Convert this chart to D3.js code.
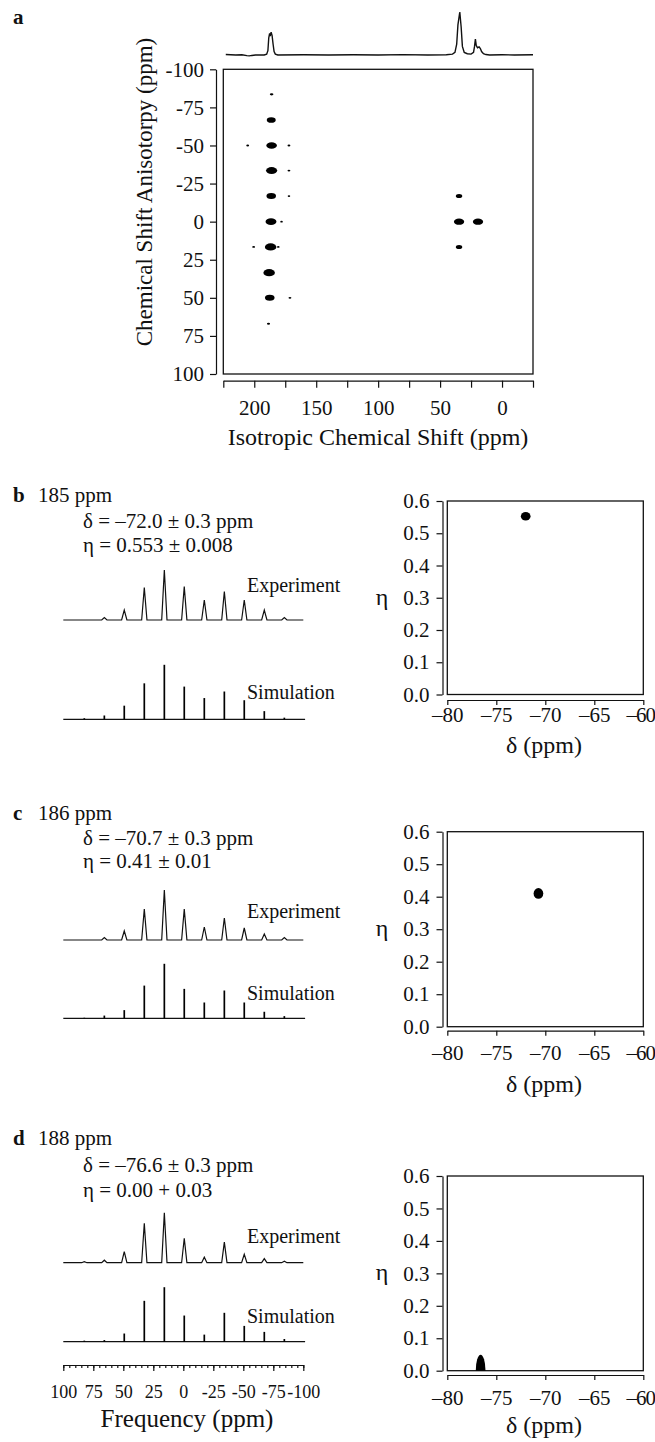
<!DOCTYPE html>
<html>
<head>
<meta charset="utf-8">
<script src="https://cdn.jsdelivr.net/npm/d3@7"></script>
<style>
  body { margin: 0; background: #fff; }
  svg text { font-family: "Liberation Serif", "Times New Roman", serif; fill: #111; }
  .axis path, .axis line { stroke: #111; stroke-width: 1.2; }
</style>
</head>
<body>
<div id="chart"></div>
<script>
// ---------- panel a : 2D isotropic / anisotropic spectrum ----------
const SPOT_ISO   = [186.0, 186.3, 186.0, 205.3, 172.0, 186.0, 172.0, 186.3, 172.0, 186.5, 178.0, 186.8, 200.5, 180.6, 188.0, 187.5, 171.2, 188.5, 34.7, 34.7, 34.7, 19.4];
const SPOT_ANISO = [-83.6, -66.7, -50.0, -50.0, -50.0, -33.5, -33.5, -16.8, -16.8, 0.0, 0.0, 16.6, 16.6, 16.6, 33.5, 50.0, 50.0, 67.0, -16.8, 0.0, 16.6, 0.0];
const SPOT_INT   = [8, 49, 68, 5, 5, 77, 5, 56, 4, 72, 4, 81, 5, 4, 81, 56, 5, 6, 25, 64, 25, 64];

// 1D projection on top (ppm, relative intensity)
const TOP_PPM = [223, 215, 210, 206, 204, 202, 199, 192, 190, 189, 188.3, 187.6, 187.1, 186.4, 185.6, 184.8, 184, 183, 181, 160, 140, 120, 100, 80, 60, 45, 40, 38, 36.6, 35.6, 34.1, 33.0, 32.0, 30.5, 28, 25, 23, 22.2, 21.5, 20.8, 19.8, 18.5, 17.5, 16.5, 15, 13, 10, 0, -10, -25];
const TOP_INT = [1, 0, 0.5, -1.5, -2, -1, 0, 0, 2, 10, 40, 50, 44, 53, 45, 25, 8, 2, 0, 0.5, 0, 0.5, 0, 0.8, 0, 0.5, 2, 6, 25, 70, 100, 65, 20, 6, 3, 2, 6, 20, 37, 22, 17, 19, 15, 8, 3, 1, 0, 0.5, 0, 0.5];

const ISO_TICKS = d3.range(225, -26, -25);
const ISO_LABELS = [200, 150, 100, 50, 0];
const ANISO_TICKS = d3.range(-100, 101, 25);

// ---------- panels b-d : sideband spectra and fits ----------
const SIDEBAND_PPM = [82.5, 65.8, 49.2, 32.5, 15.8, -0.8, -17.5, -34.2, -50.8, -67.5, -84.2];
const EXP_B = [0, 5, 20, 65, 100, 67, 40, 57, 40, 20, 5];
const SIM_B = [2, 7, 25, 66, 100, 60, 39, 51, 35, 15, 3];
const EXP_C = [0, 5, 18, 62, 100, 62, 26, 44, 24, 12, 5];
const SIM_C = [1, 5, 15, 60, 100, 54, 29, 51, 29, 12, 4];
const EXP_D = [2, 5, 22, 79, 100, 49, 11, 41, 17, 8, 3];
const SIM_D = [2, 3, 15, 75, 100, 48, 13, 53, 29, 18, 5];

const SITE_PPM = [185, 186, 188];
const FIT_DELTA = [-72.0, -70.7, -76.6];
const FIT_DELTA_ERR = [0.3, 0.3, 0.3];
const FIT_ETA = [0.553, 0.41, 0.00];
const FIT_ETA_ERR = [0.008, 0.01, 0.03];
const ETA_LABEL = ["0.553 \u00b1 0.008", "0.41 \u00b1 0.01", "0.00 + 0.03"];

const FREQ_TICKS = d3.range(100, -101, -25);
const DELTA_TICKS = [-80, -75, -70, -65, -60];
const ETA_TICKS = [0, 0.1, 0.2, 0.3, 0.4, 0.5, 0.6];

const FONT = "Liberation Serif, Times New Roman, serif";
const width = 655, height = 1442;
const svg = d3.select("#chart").append("svg")
  .attr("width", width)
  .attr("height", height)
  .attr("font-family", FONT);

function styleTicks(g, size) {
  g.attr("font-family", FONT).attr("font-size", size);
  g.selectAll("text").attr("font-family", FONT).style("font-size", size + "px").attr("fill", "#111");
}

// ================= panel a =================
const xIso = d3.scaleLinear().domain([225, -25]).range([223.3, 533]);
const yAniso = d3.scaleLinear().domain([-100, 100]).range([69.3, 374]);
const yTop = d3.scaleLinear().domain([0, 100]).range([55, 12]);
const rSpot = d3.scaleSqrt().domain([0, 100]).range([0, 4]);

svg.append("text").attr("x", 13).attr("y", 24)
  .style("font-size", "21px").style("font-weight", "bold").text("a");

const topLine = d3.line()
  .x((d, i) => xIso(TOP_PPM[i]))
  .y(d => yTop(d));
svg.append("path")
  .attr("d", topLine(TOP_INT))
  .attr("fill", "none").attr("stroke", "#111").attr("stroke-width", 1.4);

svg.append("rect")
  .attr("x", xIso.range()[0]).attr("y", yAniso.range()[0])
  .attr("width", xIso.range()[1] - xIso.range()[0])
  .attr("height", yAniso.range()[1] - yAniso.range()[0])
  .attr("fill", "none").attr("stroke", "#111").attr("stroke-width", 1.3);

svg.selectAll(".spot")
  .data(SPOT_INT)
  .enter()
  .append("ellipse")
  .classed("spot", true)
  .attr("cx", (d, i) => xIso(SPOT_ISO[i]))
  .attr("cy", (d, i) => yAniso(SPOT_ANISO[i]))
  .attr("rx", d => Math.max(1, rSpot(d) * 1.6))
  .attr("ry", d => Math.max(0.9, rSpot(d)))
  .attr("fill", "#000");

svg.append("g").attr("class", "axis")
  .attr("transform", "translate(0,380.7)")
  .call(d3.axisBottom(xIso).tickValues(ISO_TICKS).tickSize(7).tickSizeOuter(0).tickPadding(12)
    .tickFormat(d => ISO_LABELS.includes(d) ? d : ""))
  .call(styleTicks, 21);

svg.append("g").attr("class", "axis")
  .attr("transform", "translate(216,0)")
  .call(d3.axisLeft(yAniso).tickValues(ANISO_TICKS).tickSize(6).tickSizeOuter(0).tickPadding(6)
    .tickFormat(d => String(d)))
  .call(styleTicks, 21);

svg.append("text")
  .attr("transform", "translate(152,192) rotate(-90)")
  .attr("text-anchor", "middle")
  .style("font-size", "23px")
  .text("Chemical Shift Anisotorpy (ppm)");

svg.append("text")
  .attr("x", 378).attr("y", 445)
  .attr("text-anchor", "middle")
  .style("font-size", "24px")
  .text("Isotropic Chemical Shift (ppm)");

// ================= panels b, c, d =================
const xFreq = d3.scaleLinear().domain([100, -100]).range([63.3, 303.3]);
const xDelta = d3.scaleLinear().domain([-80, -60]).range([447.3, 643.3]);

const ROWS = [
  { letter: "b", exp: EXP_B, sim: SIM_B, titleY: 501.7, deltaY: 528.3, etaY: 551.7, expLabelY: 591.7, expBase: 620,
    simLabelY: 699.3, simBase: 719.3, boxTop: 501, boxBottom: 694.5, xAxisY: 700, xLabBase: 722, xTitleBase: 753 },
  { letter: "c", exp: EXP_C, sim: SIM_C, titleY: 820, deltaY: 845, etaY: 868.3, expLabelY: 918.3, expBase: 940,
    simLabelY: 1000, simBase: 1018.3, boxTop: 831.7, boxBottom: 1026.7, xAxisY: 1030.7, xLabBase: 1060, xTitleBase: 1092 },
  { letter: "d", exp: EXP_D, sim: SIM_D, titleY: 1145, deltaY: 1171.7, etaY: 1197, expLabelY: 1242.7, expBase: 1262.7,
    simLabelY: 1322.7, simBase: 1341.7, boxTop: 1176, boxBottom: 1370.7, xAxisY: 1375, xLabBase: 1405, xTitleBase: 1433 }
];

const line = d3.line();

ROWS.forEach((row, k) => {
  // header text
  svg.append("text").attr("x", 13).attr("y", row.titleY)
    .style("font-size", "21px").style("font-weight", "bold").text(row.letter);
  svg.append("text").attr("x", 38).attr("y", row.titleY)
    .style("font-size", "21px").text(SITE_PPM[k] + " ppm");
  svg.append("text").attr("x", 83).attr("y", row.deltaY)
    .style("font-size", "21px")
    .text("\u03b4 = \u2013" + Math.abs(FIT_DELTA[k]).toFixed(1) + " \u00b1 " + FIT_DELTA_ERR[k] + " ppm");
  svg.append("text").attr("x", 83).attr("y", row.etaY)
    .style("font-size", "21px")
    .text("\u03b7 = " + ETA_LABEL[k]);

  // experiment trace
  const yExp = d3.scaleLinear().domain([0, 100]).range([row.expBase, row.expBase - 50]);
  const pts = [[xFreq(100), yExp(0)]];
  SIDEBAND_PPM.forEach((p, i) => {
    if (row.exp[i] > 0) {
      pts.push([xFreq(p + 2.2), yExp(0)], [xFreq(p), yExp(row.exp[i])], [xFreq(p - 2.2), yExp(0)]);
    }
  });
  pts.push([xFreq(-100), yExp(0)]);
  svg.append("path").attr("d", line(pts))
    .attr("fill", "none").attr("stroke", "#111").attr("stroke-width", 1.2);
  svg.append("text").attr("x", 247).attr("y", row.expLabelY)
    .style("font-size", "20px").text("Experiment");

  // simulation sticks
  const ySim = d3.scaleLinear().domain([0, 100]).range([row.simBase, row.simBase - 54.5]);
  svg.append("line")
    .attr("x1", xFreq(100)).attr("x2", xFreq(-101.5))
    .attr("y1", ySim(0)).attr("y2", ySim(0))
    .attr("stroke", "#111").attr("stroke-width", 1.3);
  svg.selectAll(".stick" + k)
    .data(row.sim)
    .enter()
    .append("line")
    .classed("stick" + k, true)
    .attr("x1", (d, i) => xFreq(SIDEBAND_PPM[i]))
    .attr("x2", (d, i) => xFreq(SIDEBAND_PPM[i]))
    .attr("y1", ySim(0))
    .attr("y2", d => ySim(d))
    .attr("stroke", "#000").attr("stroke-width", 1.7);
  svg.append("text").attr("x", 247).attr("y", row.simLabelY)
    .style("font-size", "20px").text("Simulation");

  // delta / eta fit map
  const yEta = d3.scaleLinear().domain([0, 0.6]).range([row.boxBottom, row.boxTop]);
  const clipId = "clip" + k;
  svg.append("clipPath").attr("id", clipId)
    .append("rect")
    .attr("x", xDelta.range()[0]).attr("y", row.boxTop)
    .attr("width", xDelta.range()[1] - xDelta.range()[0])
    .attr("height", row.boxBottom - row.boxTop);

  svg.append("rect")
    .attr("x", xDelta.range()[0]).attr("y", row.boxTop)
    .attr("width", xDelta.range()[1] - xDelta.range()[0])
    .attr("height", row.boxBottom - row.boxTop)
    .attr("fill", "none").attr("stroke", "#111").attr("stroke-width", 1.3);

  svg.append("ellipse")
    .attr("clip-path", "url(#" + clipId + ")")
    .attr("cx", xDelta(FIT_DELTA[k]))
    .attr("cy", yEta(FIT_ETA[k]))
    .attr("rx", 1.65 * (xDelta(FIT_DELTA[k] + FIT_DELTA_ERR[k]) - xDelta(FIT_DELTA[k])))
    .attr("ry", 1.65 * (yEta(0) - yEta(FIT_ETA_ERR[k])))
    .attr("fill", "#000");

  svg.append("g").attr("class", "axis")
    .attr("transform", "translate(442.5,0)")
    .call(d3.axisLeft(yEta).tickValues(ETA_TICKS).tickSize(6).tickSizeOuter(0).tickPadding(7)
      .tickFormat(d3.format(".1f")))
    .call(styleTicks, 21);

  const pad = row.xLabBase - row.xAxisY - 5 - 0.71 * 21;
  const gx = svg.append("g").attr("class", "axis")
    .attr("transform", "translate(0," + row.xAxisY + ")")
    .call(d3.axisBottom(xDelta).tickValues(DELTA_TICKS).tickSize(5).tickSizeOuter(0).tickPadding(pad)
      .tickFormat(d => "\u2013" + Math.abs(d)))
    .call(styleTicks, 21);
  // last label sits against the page edge, tighten it as in the original
  gx.selectAll(".tick").filter(d => d === -60).select("text")
    .attr("dx", -3).style("letter-spacing", "-1px");

  svg.append("text").attr("x", 382).attr("y", yEta(0.3) + 7)
    .attr("text-anchor", "middle").style("font-size", "24px").text("\u03b7");
  svg.append("text").attr("x", 544).attr("y", row.xTitleBase)
    .attr("text-anchor", "middle").style("font-size", "24px").text("\u03b4 (ppm)");
});

// frequency axis under panel d
svg.append("g").attr("class", "axis")
  .attr("transform", "translate(0,1365)")
  .call(d3.axisBottom(xFreq).tickValues(d3.range(100, -101, -5)).tickSize(3).tickSizeOuter(0).tickFormat(""));
svg.append("g").attr("class", "axis")
  .attr("transform", "translate(0,1365)")
  .call(d3.axisBottom(xFreq).tickValues(FREQ_TICKS).tickSize(6).tickSizeOuter(0).tickPadding(14)
    .tickFormat(d => String(d)))
  .call(styleTicks, 18);
svg.append("text").attr("x", 187).attr("y", 1427)
  .attr("text-anchor", "middle").style("font-size", "25px").text("Frequency (ppm)");
</script>
</body>
</html>
